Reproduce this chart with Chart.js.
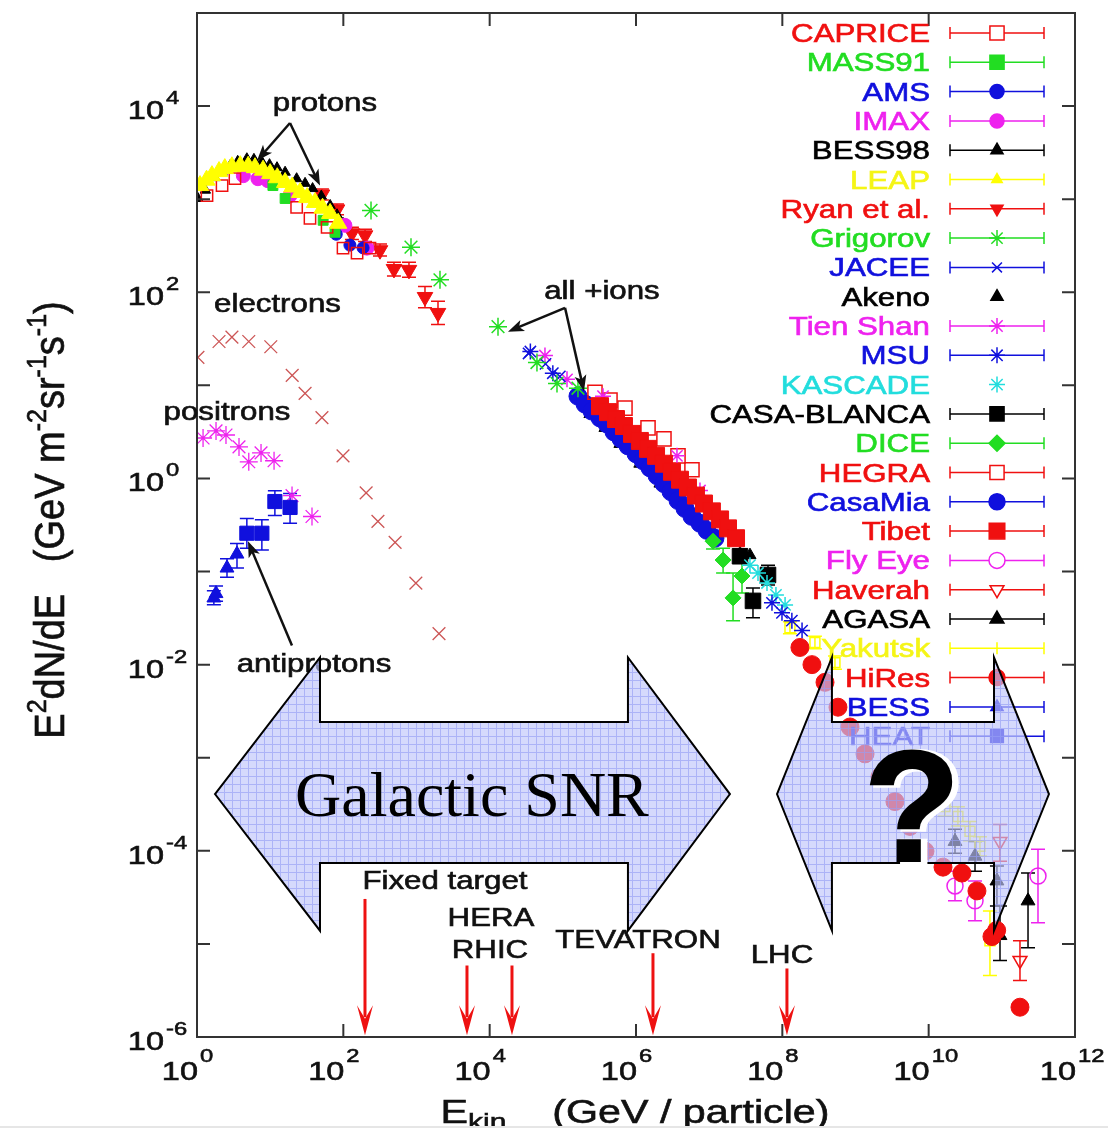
<!DOCTYPE html>
<html lang="en">
<head>
<meta charset="UTF-8">
<title>Cosmic ray energy spectrum</title>
<script src="https://cdn.jsdelivr.net/npm/chart.js@4"></script>
<style>
  body { margin: 0; background: #fff; }
  #wrap { width: 1108px; height: 1128px; }
</style>
</head>
<body>
<div id="wrap"><canvas id="crChart"></canvas></div>
<script>
// E in GeV / particle, flux = E^2 dN/dE in GeV m^-2 sr^-1 s^-1
const capriceE = [1.37, 2.2, 3.3, 23, 35, 60, 99, 154, 231];
const capriceF = [1094, 1400, 1660, 815, 622, 499, 298, 263, 298];
const mass91E = [10.9, 16, 53, 77];
const mass91F = [1400, 1017, 593, 441];
const amsE = [80, 123, 186];
const amsF = [420, 321, 300];
const imaxE = [4.3, 6.8, 9.3, 18.7, 105, 210];
const imaxF = [1790, 1660, 1580, 1094, 524, 298];
const bess98E = [1.03, 1.3, 1.76, 2.2, 2.83, 3.6, 4.8, 6.0, 7.7, 9.8, 12.4, 16, 23, 30, 38, 50, 66, 82, 99];
const bess98F = [1017, 1250, 1705, 1950, 2290, 2550, 2720, 2680, 2520, 2350, 2180, 1950, 1660, 1480, 1300, 1080, 857, 680, 551];
const leapE = [1.1, 1.35, 1.6, 2.0, 2.4, 3.0, 3.9, 5.0, 6.2, 8.0, 10, 12.5, 16, 20, 25.6, 32, 41, 52, 66, 85];
const leapF = [1400, 1600, 1790, 1980, 2130, 2230, 2290, 2260, 2180, 2050, 1880, 1700, 1510, 1350, 1180, 1040, 922, 800, 703, 551];
const ryanE = [51, 82, 131, 198, 317, 492, 789, 1306, 1967];
const ryanF = [1122, 776, 430, 409, 283, 178, 174, 89, 60];
const ryanLo = [980, 680, 370, 350, 245, 150, 145, 68, 45];
const ryanHi = [1290, 890, 500, 475, 330, 210, 210, 115, 80];
const grigorovE = [239, 841, 2094, 13000, 44300, 83200, 161000];
const grigorovF = [757, 305, 136, 42.7, 17.6, 10.5, 9.31];
const jaceeE = [34000, 58000, 91000];
const jaceeF = [22, 17, 12.5];
const akenoE = [2.35e5, 3.77e5, 6.04e5, 1.13e6, 2.13e6, 2.64e7, 3.61e7];
const akenoF = [4.92, 3.49, 2.35, 1.44, 0.88, 0.157, 0.15];
const tienShanE = [57000, 114000, 354000, 3.63e6, 7.49e6];
const tienShanF = [20.9, 11.6, 7.65, 1.75, 0.742];
const msuE = [36000, 73000, 7.22e7, 9.89e7, 1.35e8, 1.86e8];
const msuF = [23.1, 13.5, 0.0461, 0.036, 0.0297, 0.0232];
const kascadeE = [3.61e7, 4.65e7, 6.17e7, 8.18e7, 1.09e8];
const kascadeF = [0.117, 0.0964, 0.0754, 0.0561, 0.0438];
const casaBlancaE = [2.64e7, 3.97e7, 6.37e7];
const casaBlancaF = [0.146, 0.0484, 0.0919];
const casaBlancaLo = [0.13, 0.0319, 0.0718];
const casaBlancaHi = [0.165, 0.0667, 0.117];
const diceE = [1.13e7, 1.55e7, 2.12e7, 2.81e7];
const diceF = [0.212, 0.133, 0.0521, 0.0895];
const diceLo = [0.175, 0.0964, 0.0297, 0.059];
const diceHi = [0.255, 0.178, 0.0964, 0.123];
const hegraE = [2.75e5, 4.41e5, 7.07e5, 1.46e6, 2.41e6, 3.75e6, 5.82e6];
const hegraF = [8.44, 6.93, 5.70, 3.49, 2.66, 1.75, 1.24];
const casaMiaE = [1.61e5, 2.01e5, 2.50e5, 3.22e5, 4.01e5, 5.0e5, 6.24e5, 7.77e5, 1.0e6, 1.25e6,
                  1.55e6, 1.94e6, 2.41e6, 3.01e6, 3.75e6, 4.67e6, 5.82e6, 7.49e6, 9.33e6, 1.2e7];
const casaMiaF = [7.65, 6.29, 5.29, 4.46, 3.85, 3.16, 2.66, 2.24, 1.84, 1.55,
                  1.30, 1.07, 0.88, 0.72, 0.58, 0.476, 0.391, 0.33, 0.277, 0.228];
const tibetE = [3.22e5, 4.14e5, 5.33e5, 6.85e5, 8.81e5, 1.13e6, 1.46e6, 1.88e6, 2.41e6,
                3.10e6, 3.99e6, 5.13e6, 6.60e6, 8.49e6, 1.09e7, 1.41e7, 1.81e7, 2.33e7];
const tibetF = [5.98, 5.16, 4.35, 3.66, 3.01, 2.53, 2.08, 1.75, 1.44,
                1.18, 0.97, 0.80, 0.655, 0.538, 0.443, 0.363, 0.291, 0.228];
const flyEyeE = [2.29e10, 4.3e10, 3.12e11];
const flyEyeF = [4.19e-5, 2.9e-5, 5.36e-5];
const flyEyeLo = [2.9e-5, 1.77e-5, 1.69e-5];
const flyEyeHi = [6.05e-5, 4.75e-5, 1.04e-4];
const haverahE = [9.44e10, 1.77e11];
const haverahF = [1.26e-4, 6.64e-6];
const haverahLo = [7.74e-5, 4.05e-6];
const haverahHi = [1.92e-4, 1.08e-5];
const agasaE = [2.29e10, 4.3e10, 8.57e10, 9.44e10, 2.28e11];
const agasaF = [1.26e-4, 8.75e-5, 4.75e-5, 1.23e-5, 2.9e-5];
const agasaLo = [9.42e-5, 6.05e-5, 2.56e-5, 6.64e-6, 9.1e-6];
const agasaHi = [1.7e-4, 1.26e-4, 6.85e-5, 2.56e-5, 5.77e-5];
const yakutskE = [1.27e8, 2.79e8, 5.24e8, 1.67e10, 2.51e10, 3.67e10, 5.02e10, 6.88e10];
const yakutskF = [0.0249, 0.0173, 0.0105, 2.99e-4, 2.34e-4, 1.62e-4, 1.12e-4, 1.08e-5];
const yakutskLo = [0.0215, 0.0148, 0.0089, 2.35e-4, 1.85e-4, 1.28e-4, 8.8e-5, 4.59e-6];
const yakutskHi = [0.0288, 0.0202, 0.0124, 3.8e-4, 2.97e-4, 2.06e-4, 1.42e-4, 2.26e-5];
const hiResE = [1.74e8, 2.54e8, 3.83e8, 5.76e8, 8.41e8, 1.35e9, 2.16e9, 3.46e9, 5.54e9, 8.9e9,
                1.57e10, 2.85e10, 4.57e10, 7.33e10, 8.5e10, 1.77e11];
const hiResF = [0.0153, 0.01, 0.00646, 0.00349, 0.00214, 0.0011, 6.25e-4, 3.38e-4, 1.83e-4, 9.9e-5,
                6.68e-5, 5.77e-5, 3.71e-5, 1.2e-5, 1.4e-5, 2.09e-6];
// antiprotons
const bessE = [1.7, 1.82, 2.57, 3.52];
const bessF = [0.052, 0.058, 0.109, 0.154];
const bessLo = [0.044, 0.048, 0.087, 0.109];
const bessHi = [0.062, 0.07, 0.137, 0.2];
const heatE = [4.8, 7.7, 11.6, 18.7];
const heatF = [0.258, 0.258, 0.565, 0.488];
const heatLo = [0.178, 0.17, 0.40, 0.33];
const heatHi = [0.372, 0.36, 0.74, 0.69];
const electronE = [1.03, 2.0, 3.0, 5.1, 10.2, 20, 30, 51, 99, 205, 297, 510, 980, 2030];
const electronF = [20, 29.6, 33, 29.6, 26, 12.8, 8.2, 4.5, 1.75, 0.70, 0.346, 0.206, 0.075, 0.0215];
const positronE = [1.21, 1.82, 2.49, 3.75, 5.1, 7.5, 11.3, 19.9, 37.3];
const positronF = [2.72, 3.24, 2.93, 2.18, 1.51, 1.88, 1.55, 0.655, 0.39];

const xTickExps = [0, 2, 4, 6, 8, 10, 12];
const yTickExps = [-6, -4, -2, 0, 2, 4];

// annotations, positions as [log10 E, log10 flux]
const textNotes = [
  ['protons', 1.749, 3.947], ['electrons', 1.10, 1.791], ['positrons', 0.41, 0.628],
  ['antiprotons', 1.599, -2.083], ['all +ions', 5.535, 1.93],
  ['Fixed target', 3.389, -4.41], ['HERA', 4.018, -4.805], ['RHIC', 4.004, -5.146],
  ['TEVATRON', 6.027, -5.039], ['LHC', 7.995, -5.21]
];
const blackArrows = [
  [1.271, 3.818, 0.82, 3.413], [1.271, 3.818, 1.681, 3.146],
  [1.298, -1.795, 0.697, -0.675],
  [5.03, 1.833, 4.25, 1.577], [5.03, 1.833, 5.289, 0.937]
];
const machineArrows = [[2.296, -4.517], [3.69, -5.232], [4.305, -5.232], [6.232, -5.10], [8.063, -5.264]];
const machineTip = -5.98;
const bigArrows = [[0.246, 1.681, 5.89, 7.284], [7.927, 8.678, 10.893, 11.644]];
const bigArrowY = [-1.923, -2.617, -3.39, -4.132, -4.858];

const SANS = '"Liberation Sans", Arial, Helvetica, sans-serif';
const SX = 1.25;   // text in the source is drawn a bit wide
const RED = '#f01010', GREEN = '#22dd22', BLUE = '#1010dd', MAG = '#ee22ee',
      CYAN = '#22dddd', YEL = '#f5f516', BLK = '#000000';

function pts(E, F) { return E.map((e, i) => ({ x: e, y: F[i] })); }

function series(label, E, F, o) {
  return {
    label: label, data: pts(E, F), showLine: false,
    pointStyle: o.shape, pointRadius: o.r, pointRotation: o.rot || 0,
    pointBackgroundColor: o.open ? 'rgba(0,0,0,0)' : o.color,
    pointBorderColor: o.color, pointBorderWidth: o.bw || 1,
    errLo: o.lo, errHi: o.hi, order: o.order || 0,
    inLegend: o.inLegend !== false, legendBar: o.bar !== false,
    legendMark: o.mark || 'point', legendR: o.lr || o.r,
    open: !!o.open, textColor: o.text || o.color
  };
}

const datasets = [
  series('CAPRICE', capriceE, capriceF, { shape: 'rect', r: 8, color: RED, open: true, bw: 1.5, lr: 10 }),
  series('MASS91', mass91E, mass91F, { shape: 'rect', r: 7, color: GREEN, lr: 10 }),
  series('AMS', amsE, amsF, { shape: 'circle', r: 6, color: BLUE, lr: 7 }),
  series('IMAX', imaxE, imaxF, { shape: 'circle', r: 7, color: MAG }),
  series('BESS98', bess98E, bess98F, { shape: 'triangle', r: 6, color: BLK, lr: 7 }),
  series('LEAP', leapE, leapF, { shape: 'triangle', r: 10, color: '#ffff00', text: YEL, order: -1, lr: 6 }),
  series('Ryan et al.', ryanE, ryanF, { shape: 'triangle', rot: 180, r: 9, color: RED, lo: ryanLo, hi: ryanHi, lr: 7 }),
  series('Grigorov', grigorovE, grigorovF, { shape: 'star', r: 9, color: GREEN, bw: 1.5, lr: 8 }),
  series('JACEE', jaceeE, jaceeF, { shape: 'crossRot', r: 8, color: BLUE, bw: 1.5, lr: 7 }),
  series('Akeno', akenoE, akenoF, { shape: 'triangle', r: 7, color: BLK, bar: false, order: 2 }),
  series('Tien Shan', tienShanE, tienShanF, { shape: 'star', r: 8, color: MAG, bw: 1.5 }),
  series('MSU', msuE, msuF, { shape: 'star', r: 8, color: BLUE, bw: 1.5 }),
  series('KASCADE', kascadeE, kascadeF, { shape: 'star', r: 8, color: CYAN, bw: 1.5, bar: false }),
  series('CASA-BLANCA', casaBlancaE, casaBlancaF, { shape: 'rect', r: 11, color: BLK, lo: casaBlancaLo, hi: casaBlancaHi, lr: 10 }),
  series('DICE', diceE, diceF, { shape: 'rectRot', r: 8, color: GREEN, lo: diceLo, hi: diceHi }),
  series('HEGRA', hegraE, hegraF, { shape: 'rect', r: 10, color: RED, open: true, bw: 1.5 }),
  series('CasaMia', casaMiaE, casaMiaF, { shape: 'circle', r: 9, color: BLUE, lr: 8 }),
  series('Tibet', tibetE, tibetF, { shape: 'rect', r: 12, color: RED, order: -1, lr: 11 }),
  series('Fly Eye', flyEyeE, flyEyeF, { shape: 'circle', r: 8, color: MAG, open: true, bw: 1.5, lo: flyEyeLo, hi: flyEyeHi }),
  series('Haverah', haverahE, haverahF, { shape: 'triangle', rot: 180, r: 8, color: RED, open: true, bw: 1.5, lo: haverahLo, hi: haverahHi }),
  series('AGASA', agasaE, agasaF, { shape: 'triangle', r: 8, color: BLK, lo: agasaLo, hi: agasaHi }),
  series('Yakutsk', yakutskE, yakutskF, { shape: 'rect', r: 7, color: '#ffff00', text: YEL, open: true, bw: 1.5, lo: yakutskLo, hi: yakutskHi, mark: 'tick' }),
  series('HiRes', hiResE, hiResF, { shape: 'circle', r: 9, color: RED, order: -2, lr: 8 }),
  series('BESS', bessE, bessF, { shape: 'triangle', r: 8, color: BLUE, lo: bessLo, hi: bessHi, lr: 7 }),
  series('HEAT', heatE, heatF, { shape: 'rect', r: 10, color: BLUE, lo: heatLo, hi: heatHi, lr: 9 }),
  series('electrons', electronE, electronF, { shape: 'crossRot', r: 9, color: '#cc5555', bw: 1.3, inLegend: false }),
  series('positrons', positronE, positronF, { shape: 'star', r: 9, color: MAG, bw: 1.3, inLegend: false })
];

function wideText(ctx, text, x, y, size, color, align) {
  ctx.save();
  ctx.font = size + 'px ' + SANS;
  ctx.fillStyle = color;
  ctx.strokeStyle = color;
  ctx.lineWidth = 0.6;
  ctx.textAlign = align;
  ctx.textBaseline = 'alphabetic';
  ctx.translate(x, y);
  ctx.scale(SX, 1);
  ctx.fillText(text, 0, 0);
  ctx.strokeText(text, 0, 0);
  ctx.restore();
}

// parts: [text, size, dy]; drawn centred on 0 in the current frame
function richText(ctx, parts) {
  let w = 0;
  parts.forEach(p => { ctx.font = p[1] + 'px ' + SANS; w += ctx.measureText(p[0]).width; });
  let x = -w / 2;
  parts.forEach(p => {
    ctx.font = p[1] + 'px ' + SANS;
    ctx.fillText(p[0], x, p[2] || 0);
    ctx.strokeText(p[0], x, p[2] || 0);
    x += ctx.measureText(p[0]).width;
  });
}

function marker(ctx, style, x, y) {
  if (Chart.helpers && Chart.helpers.drawPoint) {
    Chart.helpers.drawPoint(ctx, style, x, y);
  } else {
    ctx.beginPath(); ctx.arc(x, y, style.radius, 0, Math.PI * 2); ctx.fill(); ctx.stroke();
  }
}

function arrow(ctx, x1, y1, x2, y2, len, half, notch) {
  const a = Math.atan2(y2 - y1, x2 - x1);
  const c = Math.cos(a), s = Math.sin(a);
  ctx.beginPath(); ctx.moveTo(x1, y1); ctx.lineTo(x2 - c * len * 0.6, y2 - s * len * 0.6); ctx.stroke();
  ctx.beginPath();
  ctx.moveTo(x2, y2);
  ctx.lineTo(x2 - c * len - s * half, y2 - s * len + c * half);
  ctx.lineTo(x2 - c * len * notch, y2 - s * len * notch);
  ctx.lineTo(x2 - c * len + s * half, y2 - s * len - c * half);
  ctx.closePath(); ctx.fill();
}

const errorBars = {
  id: 'errorBars',
  beforeDatasetsDraw(chart) {
    const { ctx, scales: { x, y } } = chart;
    ctx.save();
    ctx.lineWidth = 1.5;
    chart.data.datasets.forEach(ds => {
      if (!ds.errLo) return;
      ctx.strokeStyle = ds.pointBorderColor;
      ds.data.forEach((p, i) => {
        const px = x.getPixelForValue(p.x);
        const lo = y.getPixelForValue(ds.errLo[i]), hi = y.getPixelForValue(ds.errHi[i]);
        ctx.beginPath();
        ctx.moveTo(px, lo); ctx.lineTo(px, hi);
        ctx.moveTo(px - 7, lo); ctx.lineTo(px + 7, lo);
        ctx.moveTo(px - 7, hi); ctx.lineTo(px + 7, hi);
        ctx.stroke();
      });
    });
    ctx.restore();
  }
};

const overlay = {
  id: 'overlay',
  afterDraw(chart) {
    const { ctx, chartArea: a, scales: { x, y } } = chart;
    const P = (lx, ly) => [x.getPixelForValue(Math.pow(10, lx)), y.getPixelForValue(Math.pow(10, ly))];
    ctx.save();

    // frame and inward ticks
    ctx.strokeStyle = '#333'; ctx.lineWidth = 2;
    ctx.strokeRect(a.left, a.top, a.right - a.left, a.bottom - a.top);
    ctx.beginPath();
    for (let e = -5; e <= 4; e++) {
      const py = y.getPixelForValue(Math.pow(10, e));
      ctx.moveTo(a.left, py); ctx.lineTo(a.left + 13, py);
      ctx.moveTo(a.right, py); ctx.lineTo(a.right - 13, py);
    }
    for (let e = 2; e <= 10; e += 2) {
      const px = x.getPixelForValue(Math.pow(10, e));
      ctx.moveTo(px, a.bottom); ctx.lineTo(px, a.bottom - 13);
      ctx.moveTo(px, a.top); ctx.lineTo(px, a.top + 13);
    }
    ctx.stroke();

    // tick labels
    yTickExps.forEach(e => {
      const py = y.getPixelForValue(Math.pow(10, e));
      wideText(ctx, '10', 164, py + 13, 26, '#111', 'right');
      wideText(ctx, String(e), 166, py - 2, 19, '#111', 'left');
    });
    xTickExps.forEach(e => {
      const px = x.getPixelForValue(Math.pow(10, e));
      wideText(ctx, '10', px + 1, 1080, 26, '#111', 'right');
      wideText(ctx, String(e), px + 3, 1062, 19, '#111', 'left');
    });

    // axis titles
    ctx.fillStyle = '#111'; ctx.strokeStyle = '#111'; ctx.lineWidth = 0.6;
    ctx.textAlign = 'left'; ctx.textBaseline = 'alphabetic';
    ctx.save();
    ctx.translate(64, 520); ctx.scale(1.1, 1); ctx.rotate(-Math.PI / 2);
    richText(ctx, [['E', 38], ['2', 25, -16], ['dN/dE   (GeV m', 38], ['-2', 25, -16], ['sr', 38],
                   ['-1', 25, -16], ['s', 38], ['-1', 25, -16], [')', 38]]);
    ctx.restore();
    ctx.save();
    ctx.translate(635, 1123); ctx.scale(SX, 1);
    richText(ctx, [['E', 33], ['kin', 24, 7], ['    (GeV / particle)', 33]]);
    ctx.restore();
    ctx.fillStyle = '#e6e6e6';
    ctx.fillRect(0, 1126, chart.width, 2);

    // legend
    const rows = chart.data.datasets.filter(d => d.inLegend);
    rows.forEach((d, i) => {
      const ry = 33 + i * 29.3;
      wideText(ctx, d.label, 930, ry + 9, 25, d.textColor, 'right');
      ctx.strokeStyle = d.pointBorderColor; ctx.lineWidth = 1.5;
      ctx.beginPath();
      if (d.legendBar) {
        ctx.moveTo(950, ry); ctx.lineTo(1044, ry);
        ctx.moveTo(950, ry - 6); ctx.lineTo(950, ry + 6);
        ctx.moveTo(1044, ry - 6); ctx.lineTo(1044, ry + 6);
      }
      if (d.legendMark === 'tick') { ctx.moveTo(997, ry - 6); ctx.lineTo(997, ry + 6); }
      ctx.stroke();
      if (d.legendMark === 'point') {
        ctx.fillStyle = d.open ? '#fff' : d.pointBorderColor;
        marker(ctx, { pointStyle: d.pointStyle, radius: d.legendR, rotation: d.pointRotation,
                      borderWidth: d.pointBorderWidth }, 997, ry);
      }
    });

    // notes
    textNotes.forEach(n => {
      const p = P(n[1], n[2]);
      wideText(ctx, n[0], p[0], p[1], 25, '#111', 'center');
    });
    ctx.strokeStyle = '#111'; ctx.fillStyle = '#111'; ctx.lineWidth = 2.5;
    blackArrows.forEach(b => {
      const p1 = P(b[0], b[1]), p2 = P(b[2], b[3]);
      arrow(ctx, p1[0], p1[1], p2[0], p2[1], 16, 6, 0.75);
    });
    ctx.strokeStyle = '#ee1111'; ctx.fillStyle = '#ee1111'; ctx.lineWidth = 3;
    machineArrows.forEach(m => {
      const p1 = P(m[0], m[1]), p2 = P(m[0], machineTip);
      arrow(ctx, p1[0], p1[1], p2[0], p2[1], 30, 8, 0.55);
    });

    // big double arrows
    const pc = document.createElement('canvas');
    pc.width = 8; pc.height = 8;
    const g = pc.getContext('2d');
    g.fillStyle = 'rgba(192,198,250,0.66)'; g.fillRect(0, 0, 8, 8);
    g.fillStyle = 'rgba(150,160,245,0.66)'; g.fillRect(0, 0, 8, 1); g.fillRect(0, 1, 1, 7);
    const pattern = ctx.createPattern(pc, 'repeat');
    const [yHt, yShT, yMid, yShB, yHb] = bigArrowY.map(v => y.getPixelForValue(Math.pow(10, v)));
    bigArrows.forEach(b => {
      const [x0, x1, x2, x3] = b.map(v => x.getPixelForValue(Math.pow(10, v)));
      ctx.beginPath();
      ctx.moveTo(x0, yMid); ctx.lineTo(x1, yHt); ctx.lineTo(x1, yShT); ctx.lineTo(x2, yShT);
      ctx.lineTo(x2, yHt); ctx.lineTo(x3, yMid); ctx.lineTo(x2, yHb); ctx.lineTo(x2, yShB);
      ctx.lineTo(x1, yShB); ctx.lineTo(x1, yHb); ctx.closePath();
      ctx.fillStyle = pattern; ctx.fill();
      ctx.strokeStyle = '#000'; ctx.lineWidth = 2; ctx.stroke();
    });

    let p = P(3.758, -3.631);
    ctx.font = '64px "Liberation Serif", "Times New Roman", serif';
    ctx.textAlign = 'center'; ctx.fillStyle = '#000';
    ctx.fillText('Galactic SNR', p[0], p[1]);

    p = P(9.772, -4.111);
    ctx.font = 'bold 158px ' + SANS;
    ctx.fillStyle = '#fff'; ctx.strokeStyle = '#fff'; ctx.lineWidth = 5;
    ctx.strokeText('?', p[0] + 5, p[1] + 1); ctx.fillText('?', p[0] + 5, p[1] + 1);
    ctx.fillStyle = '#000'; ctx.strokeStyle = '#000'; ctx.lineWidth = 2;
    ctx.fillText('?', p[0], p[1]);
    ctx.strokeText('?', p[0], p[1]);
    ctx.restore();
  }
};

new Chart(document.getElementById('crChart'), {
  type: 'scatter',
  data: { datasets: datasets },
  options: {
    responsive: true,
    maintainAspectRatio: false,
    animation: false,
    events: [],
    layout: { padding: { left: 197, right: 33, top: 7, bottom: 91 } },
    plugins: { legend: { display: false }, tooltip: { enabled: false } },
    scales: {
      x: { type: 'logarithmic', min: 1, max: 1e12, display: false },
      y: { type: 'logarithmic', min: 1e-6, max: 1e5, display: false }
    }
  },
  plugins: [errorBars, overlay]
});
</script>
</body>
</html>
